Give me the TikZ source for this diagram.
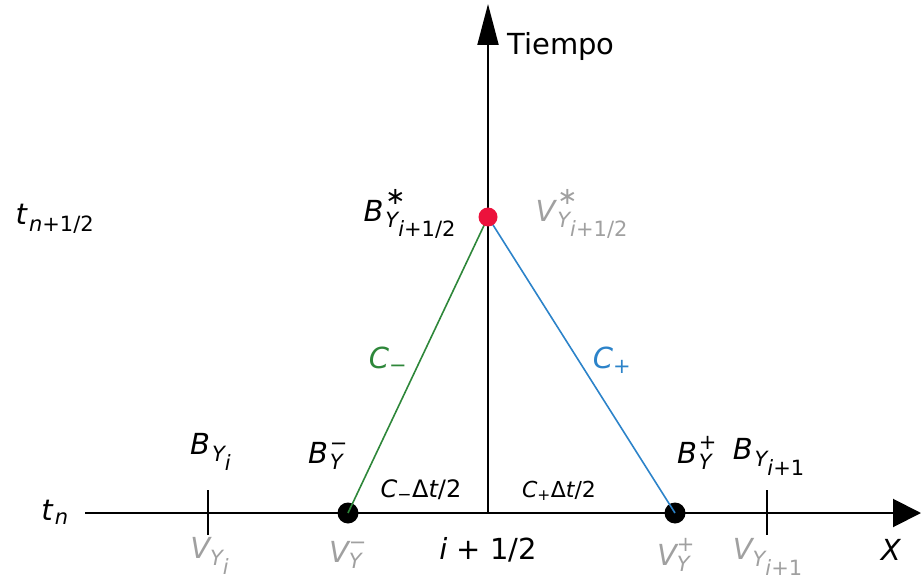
\documentclass[tikz,border=0pt]{standalone}
\usepackage{fontspec}
\usepackage{amsmath}
\setmainfont{DejaVu Sans}
\usetikzlibrary{arrows.meta}
\DeclareMathSizes{29}{29}{21}{21}
\DeclareMathSizes{24}{24}{17}{17}
\DeclareMathSizes{22}{22}{15.5}{15.5}
\definecolor{cgreen}{RGB}{46,135,58}
\definecolor{cblue}{RGB}{44,131,201}
\definecolor{cred}{RGB}{236,18,60}
\definecolor{cgrey}{RGB}{160,160,160}
\newcommand\vi[1]{\textit{#1}}
\newcommand\vu[1]{\textup{#1}}
\newcommand\sk{\kern2pt}
\newcommand\astk{\raisebox{4pt}{\fontsize{24}{24}\selectfont ∗}}
\begin{document}
\begin{tikzpicture}[x=1pt,y=-1pt,
  lbl/.style={font=\fontsize{29}{31}\selectfont, inner sep=0pt},
  small/.style={font=\fontsize{24}{26}\selectfont, inner sep=0pt},
  smaller/.style={font=\fontsize{22}{24}\selectfont, inner sep=0pt},
  axis/.style={line width=2pt},
  dot/.style={circle, fill=black, minimum size=21pt, inner sep=0pt},
  tickmark/.style={line width=2pt}]
\useasboundingbox (0,0) rectangle (921,580);
% axes
\coordinate (xs) at (85,513);
\coordinate (xe) at (921,513);
\coordinate (ys) at (488,513);
\coordinate (ye) at (488,4);
\draw[axis, -{Triangle[length=28pt,width=28pt]}] (xs) -- (xe);
\draw[axis, -{Triangle[length=41pt,width=21pt]}] (ys) -- (ye);
% ticks
\coordinate (t1a) at (208,490); \coordinate (t1b) at (208,535);
\coordinate (t2a) at (767,490); \coordinate (t2b) at (767,535);
\draw[tickmark] (t1a) -- (t1b);
\draw[tickmark] (t2a) -- (t2b);
% points
\node[dot] (pm) at (348,513) {};
\node[dot] (pp) at (675,513) {};
\coordinate (top) at (488,217);
\draw[cgreen, line width=1.6pt] (pm.center) -- (top);
\draw[cblue, line width=1.6pt] (top) -- (pp.center);
\node[dot, fill=cred, minimum size=19pt] (ps) at (top) {};
% labels
\node[lbl] (tiempo) at (561,47) {Tiempo};
\node[lbl] (tn) at (55,512) {$\vi{t}_{\sk\vi{n}}$};
\node[lbl] (tnh) at (55,219) {$\vi{t}_{\sk\vi{n}\vu{+1/2}}$};
\node[lbl] (bstar) at (410,214) {$\vi{B}^{\sk\astk}_{\sk\vi{Y}_{\vi{i}\vu{+1/2}}}$};
\node[lbl, text=cgrey] (vstar) at (582,214) {$\vi{V}^{\sk\astk}_{\sk\vi{Y}_{\vi{i}\vu{+1/2}}}$};
\node[lbl, text=cgreen] (cm) at (388,360) {$\vi{C}_{\vu{−}}$};
\node[lbl, text=cblue] (cp) at (612,360) {$\vi{C}_{\vu{+}}$};
\node[lbl] (byi) at (211,452) {$\vi{B}_{\sk\vi{Y}_{\vi{i}}}$};
\node[lbl] (bym) at (328,456) {$\vi{B}^{\sk\vu{−}}_{\sk\vi{Y}}$};
\node[small] (cmdt) at (421,490) {$\vi{C}_{\vu{−}}\vu{Δ}\vi{t}\vu{/2}$};
\node[smaller] (cpdt) at (559,491) {$\vi{C}_{\vu{+}}\vu{Δ}\vi{t}\vu{/2}$};
\node[lbl] (byp) at (697,453) {$\vi{B}^{\sk\vu{+}}_{\sk\vi{Y}}$};
\node[lbl] (byi1) at (769,457) {$\vi{B}_{\sk\vi{Y}_{\vi{i}\vu{+1}}}$};
\node[lbl, text=cgrey] (vyi) at (210,556) {$\vi{V}_{\vi{Y}_{\vi{i}}}$};
\node[lbl, text=cgrey] (vym) at (348,555) {$\vi{V}^{\vu{−}}_{\vi{Y}}$};
\node[lbl] (ih) at (488,550) {\vi{i} + 1/2};
\node[lbl, text=cgrey] (vyp) at (676,555) {$\vi{V}^{\vu{+}}_{\vi{Y}}$};
\node[lbl, text=cgrey] (vyi1) at (768,557) {$\vi{V}_{\vi{Y}_{\vi{i}\vu{+1}}}$};
\node[lbl] (xl) at (891,550) {\vi{X}};
\end{tikzpicture}
\end{document}
